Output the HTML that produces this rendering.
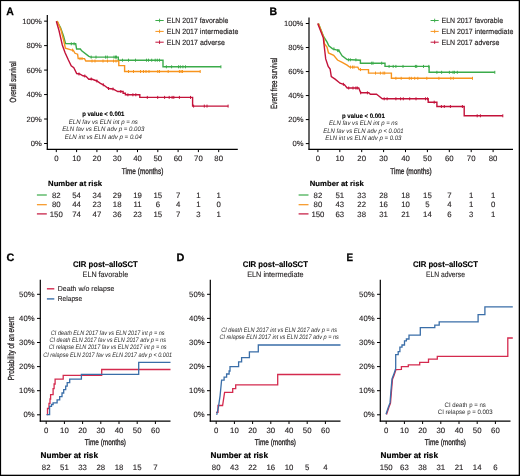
<!DOCTYPE html><html><head><meta charset="utf-8"><style>html,body{margin:0;padding:0;background:#fff;}svg{display:block;will-change:transform;text-rendering:geometricPrecision;font-family:"Liberation Sans",sans-serif;}</style></head><body>
<svg width="520" height="476" viewBox="0 0 520 476">
<rect x="0" y="0" width="520" height="476" fill="#fff"/>
<text x="6.3" y="14.8" font-size="10.8" text-anchor="start" font-weight="bold" font-style="normal" fill="#000" textLength="7.6" lengthAdjust="spacingAndGlyphs" stroke="#000" stroke-width="0.25">A</text>
<line x1="47.3" y1="15.0" x2="47.3" y2="149.8" stroke="#000" stroke-width="1.2"/>
<line x1="46.8" y1="149.3" x2="237.8" y2="149.3" stroke="#000" stroke-width="1.2"/>
<line x1="44.099999999999994" y1="143.5" x2="47.3" y2="143.5" stroke="#000" stroke-width="1.0"/>
<text x="41.699999999999996" y="146.1" font-size="7.6" text-anchor="end" font-weight="normal" font-style="normal" fill="#231f20" stroke="#231f20" stroke-width="0.12">0%</text>
<line x1="44.099999999999994" y1="119.03" x2="47.3" y2="119.03" stroke="#000" stroke-width="1.0"/>
<text x="41.699999999999996" y="121.63" font-size="7.6" text-anchor="end" font-weight="normal" font-style="normal" fill="#231f20" stroke="#231f20" stroke-width="0.12">20%</text>
<line x1="44.099999999999994" y1="94.56" x2="47.3" y2="94.56" stroke="#000" stroke-width="1.0"/>
<text x="41.699999999999996" y="97.16" font-size="7.6" text-anchor="end" font-weight="normal" font-style="normal" fill="#231f20" stroke="#231f20" stroke-width="0.12">40%</text>
<line x1="44.099999999999994" y1="70.09" x2="47.3" y2="70.09" stroke="#000" stroke-width="1.0"/>
<text x="41.699999999999996" y="72.69" font-size="7.6" text-anchor="end" font-weight="normal" font-style="normal" fill="#231f20" stroke="#231f20" stroke-width="0.12">60%</text>
<line x1="44.099999999999994" y1="45.620000000000005" x2="47.3" y2="45.620000000000005" stroke="#000" stroke-width="1.0"/>
<text x="41.699999999999996" y="48.220000000000006" font-size="7.6" text-anchor="end" font-weight="normal" font-style="normal" fill="#231f20" stroke="#231f20" stroke-width="0.12">80%</text>
<line x1="44.099999999999994" y1="21.150000000000006" x2="47.3" y2="21.150000000000006" stroke="#000" stroke-width="1.0"/>
<text x="41.699999999999996" y="23.750000000000007" font-size="7.6" text-anchor="end" font-weight="normal" font-style="normal" fill="#231f20" stroke="#231f20" stroke-width="0.12">100%</text>
<line x1="56.3" y1="149.3" x2="56.3" y2="152.10000000000002" stroke="#000" stroke-width="1.0"/>
<text x="56.3" y="161.2" font-size="7.8" text-anchor="middle" font-weight="normal" font-style="normal" fill="#231f20" stroke="#231f20" stroke-width="0.12">0</text>
<line x1="76.6" y1="149.3" x2="76.6" y2="152.10000000000002" stroke="#000" stroke-width="1.0"/>
<text x="76.6" y="161.2" font-size="7.8" text-anchor="middle" font-weight="normal" font-style="normal" fill="#231f20" stroke="#231f20" stroke-width="0.12">10</text>
<line x1="96.9" y1="149.3" x2="96.9" y2="152.10000000000002" stroke="#000" stroke-width="1.0"/>
<text x="96.9" y="161.2" font-size="7.8" text-anchor="middle" font-weight="normal" font-style="normal" fill="#231f20" stroke="#231f20" stroke-width="0.12">20</text>
<line x1="117.2" y1="149.3" x2="117.2" y2="152.10000000000002" stroke="#000" stroke-width="1.0"/>
<text x="117.2" y="161.2" font-size="7.8" text-anchor="middle" font-weight="normal" font-style="normal" fill="#231f20" stroke="#231f20" stroke-width="0.12">30</text>
<line x1="137.5" y1="149.3" x2="137.5" y2="152.10000000000002" stroke="#000" stroke-width="1.0"/>
<text x="137.5" y="161.2" font-size="7.8" text-anchor="middle" font-weight="normal" font-style="normal" fill="#231f20" stroke="#231f20" stroke-width="0.12">40</text>
<line x1="157.8" y1="149.3" x2="157.8" y2="152.10000000000002" stroke="#000" stroke-width="1.0"/>
<text x="157.8" y="161.2" font-size="7.8" text-anchor="middle" font-weight="normal" font-style="normal" fill="#231f20" stroke="#231f20" stroke-width="0.12">50</text>
<line x1="178.10000000000002" y1="149.3" x2="178.10000000000002" y2="152.10000000000002" stroke="#000" stroke-width="1.0"/>
<text x="178.10000000000002" y="161.2" font-size="7.8" text-anchor="middle" font-weight="normal" font-style="normal" fill="#231f20" stroke="#231f20" stroke-width="0.12">60</text>
<line x1="198.39999999999998" y1="149.3" x2="198.39999999999998" y2="152.10000000000002" stroke="#000" stroke-width="1.0"/>
<text x="198.39999999999998" y="161.2" font-size="7.8" text-anchor="middle" font-weight="normal" font-style="normal" fill="#231f20" stroke="#231f20" stroke-width="0.12">70</text>
<line x1="218.7" y1="149.3" x2="218.7" y2="152.10000000000002" stroke="#000" stroke-width="1.0"/>
<text x="218.7" y="161.2" font-size="7.8" text-anchor="middle" font-weight="normal" font-style="normal" fill="#231f20" stroke="#231f20" stroke-width="0.12">80</text>
<text x="142.55" y="173.7" font-size="8.5" text-anchor="middle" font-weight="normal" font-style="normal" fill="#231f20" textLength="41.5" lengthAdjust="spacingAndGlyphs" stroke="#231f20" stroke-width="0.3">Time (months)</text>
<text transform="translate(16.4,82.0) rotate(-90)" x="0" y="0" font-size="9.0" text-anchor="middle" fill="#231f20" stroke="#231f20" stroke-width="0.3" textLength="41" lengthAdjust="spacingAndGlyphs">Overall survival</text>
<line x1="155.4" y1="20.5" x2="163.7" y2="20.5" stroke="#3bab4a" stroke-width="1.0"/>
<line x1="159.55" y1="18.7" x2="159.55" y2="22.3" stroke="#3bab4a" stroke-width="0.9"/>
<text x="166.8" y="22.7" font-size="7.6" text-anchor="start" font-weight="normal" font-style="normal" fill="#231f20" textLength="61.5" lengthAdjust="spacingAndGlyphs" stroke="#231f20" stroke-width="0.15">ELN 2017 favorable</text>
<line x1="155.4" y1="31.4" x2="163.7" y2="31.4" stroke="#f7941d" stroke-width="1.0"/>
<line x1="159.55" y1="29.599999999999998" x2="159.55" y2="33.199999999999996" stroke="#f7941d" stroke-width="0.9"/>
<text x="166.8" y="33.6" font-size="7.6" text-anchor="start" font-weight="normal" font-style="normal" fill="#231f20" textLength="71.5" lengthAdjust="spacingAndGlyphs" stroke="#231f20" stroke-width="0.15">ELN 2017 intermediate</text>
<line x1="155.4" y1="42.2" x2="163.7" y2="42.2" stroke="#c3123a" stroke-width="1.0"/>
<line x1="159.55" y1="40.400000000000006" x2="159.55" y2="44.0" stroke="#c3123a" stroke-width="0.9"/>
<text x="166.8" y="44.6" font-size="7.6" text-anchor="start" font-weight="normal" font-style="normal" fill="#231f20" textLength="58.0" lengthAdjust="spacingAndGlyphs" stroke="#231f20" stroke-width="0.15">ELN 2017 adverse</text>
<text x="103.3" y="116.3" font-size="6.3" text-anchor="middle" font-weight="bold" font-style="normal" fill="#000" textLength="42.3" lengthAdjust="spacingAndGlyphs" stroke="#000" stroke-width="0.12">p value &lt; 0.001</text>
<text x="103.3" y="123.69999999999999" font-size="6.4" text-anchor="middle" font-weight="normal" font-style="italic" fill="#2a2a2a" textLength="69" lengthAdjust="spacingAndGlyphs">ELN fav vs ELN int p = ns</text>
<text x="103.3" y="131.29999999999998" font-size="6.4" text-anchor="middle" font-weight="normal" font-style="italic" fill="#2a2a2a" textLength="82" lengthAdjust="spacingAndGlyphs">ELN fav vs ELN adv p = 0.003</text>
<text x="103.3" y="138.6" font-size="6.4" text-anchor="middle" font-weight="normal" font-style="italic" fill="#2a2a2a" textLength="77" lengthAdjust="spacingAndGlyphs">ELN int vs ELN adv p = 0.04</text>
<text x="48.099999999999994" y="185.8" font-size="7.6" text-anchor="start" font-weight="bold" font-style="normal" fill="#000" textLength="54" lengthAdjust="spacingAndGlyphs" stroke="#000" stroke-width="0.15">Number at risk</text>
<line x1="36.9" y1="195.0" x2="46.8" y2="195.0" stroke="#3bab4a" stroke-width="1.2"/>
<text x="56.3" y="197.6" font-size="7.8" text-anchor="middle" font-weight="normal" font-style="normal" fill="#231f20" stroke="#231f20" stroke-width="0.12">82</text>
<text x="76.6" y="197.6" font-size="7.8" text-anchor="middle" font-weight="normal" font-style="normal" fill="#231f20" stroke="#231f20" stroke-width="0.12">54</text>
<text x="96.9" y="197.6" font-size="7.8" text-anchor="middle" font-weight="normal" font-style="normal" fill="#231f20" stroke="#231f20" stroke-width="0.12">34</text>
<text x="117.2" y="197.6" font-size="7.8" text-anchor="middle" font-weight="normal" font-style="normal" fill="#231f20" stroke="#231f20" stroke-width="0.12">29</text>
<text x="137.5" y="197.6" font-size="7.8" text-anchor="middle" font-weight="normal" font-style="normal" fill="#231f20" stroke="#231f20" stroke-width="0.12">19</text>
<text x="157.8" y="197.6" font-size="7.8" text-anchor="middle" font-weight="normal" font-style="normal" fill="#231f20" stroke="#231f20" stroke-width="0.12">15</text>
<text x="178.10000000000002" y="197.6" font-size="7.8" text-anchor="middle" font-weight="normal" font-style="normal" fill="#231f20" stroke="#231f20" stroke-width="0.12">7</text>
<text x="198.39999999999998" y="197.6" font-size="7.8" text-anchor="middle" font-weight="normal" font-style="normal" fill="#231f20" stroke="#231f20" stroke-width="0.12">1</text>
<text x="218.7" y="197.6" font-size="7.8" text-anchor="middle" font-weight="normal" font-style="normal" fill="#231f20" stroke="#231f20" stroke-width="0.12">1</text>
<line x1="36.9" y1="204.7" x2="46.8" y2="204.7" stroke="#f7941d" stroke-width="1.2"/>
<text x="56.3" y="207.29999999999998" font-size="7.8" text-anchor="middle" font-weight="normal" font-style="normal" fill="#231f20" stroke="#231f20" stroke-width="0.12">80</text>
<text x="76.6" y="207.29999999999998" font-size="7.8" text-anchor="middle" font-weight="normal" font-style="normal" fill="#231f20" stroke="#231f20" stroke-width="0.12">44</text>
<text x="96.9" y="207.29999999999998" font-size="7.8" text-anchor="middle" font-weight="normal" font-style="normal" fill="#231f20" stroke="#231f20" stroke-width="0.12">23</text>
<text x="117.2" y="207.29999999999998" font-size="7.8" text-anchor="middle" font-weight="normal" font-style="normal" fill="#231f20" stroke="#231f20" stroke-width="0.12">18</text>
<text x="137.5" y="207.29999999999998" font-size="7.8" text-anchor="middle" font-weight="normal" font-style="normal" fill="#231f20" stroke="#231f20" stroke-width="0.12">11</text>
<text x="157.8" y="207.29999999999998" font-size="7.8" text-anchor="middle" font-weight="normal" font-style="normal" fill="#231f20" stroke="#231f20" stroke-width="0.12">6</text>
<text x="178.10000000000002" y="207.29999999999998" font-size="7.8" text-anchor="middle" font-weight="normal" font-style="normal" fill="#231f20" stroke="#231f20" stroke-width="0.12">4</text>
<text x="198.39999999999998" y="207.29999999999998" font-size="7.8" text-anchor="middle" font-weight="normal" font-style="normal" fill="#231f20" stroke="#231f20" stroke-width="0.12">1</text>
<text x="218.7" y="207.29999999999998" font-size="7.8" text-anchor="middle" font-weight="normal" font-style="normal" fill="#231f20" stroke="#231f20" stroke-width="0.12">0</text>
<line x1="36.9" y1="213.9" x2="46.8" y2="213.9" stroke="#c3123a" stroke-width="1.2"/>
<text x="56.3" y="216.5" font-size="7.8" text-anchor="middle" font-weight="normal" font-style="normal" fill="#231f20" stroke="#231f20" stroke-width="0.12">150</text>
<text x="76.6" y="216.5" font-size="7.8" text-anchor="middle" font-weight="normal" font-style="normal" fill="#231f20" stroke="#231f20" stroke-width="0.12">74</text>
<text x="96.9" y="216.5" font-size="7.8" text-anchor="middle" font-weight="normal" font-style="normal" fill="#231f20" stroke="#231f20" stroke-width="0.12">47</text>
<text x="117.2" y="216.5" font-size="7.8" text-anchor="middle" font-weight="normal" font-style="normal" fill="#231f20" stroke="#231f20" stroke-width="0.12">36</text>
<text x="137.5" y="216.5" font-size="7.8" text-anchor="middle" font-weight="normal" font-style="normal" fill="#231f20" stroke="#231f20" stroke-width="0.12">23</text>
<text x="157.8" y="216.5" font-size="7.8" text-anchor="middle" font-weight="normal" font-style="normal" fill="#231f20" stroke="#231f20" stroke-width="0.12">15</text>
<text x="178.10000000000002" y="216.5" font-size="7.8" text-anchor="middle" font-weight="normal" font-style="normal" fill="#231f20" stroke="#231f20" stroke-width="0.12">7</text>
<text x="198.39999999999998" y="216.5" font-size="7.8" text-anchor="middle" font-weight="normal" font-style="normal" fill="#231f20" stroke="#231f20" stroke-width="0.12">3</text>
<text x="218.7" y="216.5" font-size="7.8" text-anchor="middle" font-weight="normal" font-style="normal" fill="#231f20" stroke="#231f20" stroke-width="0.12">1</text>
<text x="269.4" y="14.8" font-size="10.8" text-anchor="start" font-weight="bold" font-style="normal" fill="#000" textLength="7.6" lengthAdjust="spacingAndGlyphs" stroke="#000" stroke-width="0.25">B</text>
<line x1="309.0" y1="17.5" x2="309.0" y2="149.8" stroke="#000" stroke-width="1.2"/>
<line x1="308.5" y1="149.3" x2="513.0" y2="149.3" stroke="#000" stroke-width="1.2"/>
<line x1="305.8" y1="143.6" x2="309.0" y2="143.6" stroke="#000" stroke-width="1.0"/>
<text x="303.4" y="146.2" font-size="7.6" text-anchor="end" font-weight="normal" font-style="normal" fill="#231f20" stroke="#231f20" stroke-width="0.12">0%</text>
<line x1="305.8" y1="119.58" x2="309.0" y2="119.58" stroke="#000" stroke-width="1.0"/>
<text x="303.4" y="122.17999999999999" font-size="7.6" text-anchor="end" font-weight="normal" font-style="normal" fill="#231f20" stroke="#231f20" stroke-width="0.12">20%</text>
<line x1="305.8" y1="95.56" x2="309.0" y2="95.56" stroke="#000" stroke-width="1.0"/>
<text x="303.4" y="98.16" font-size="7.6" text-anchor="end" font-weight="normal" font-style="normal" fill="#231f20" stroke="#231f20" stroke-width="0.12">40%</text>
<line x1="305.8" y1="71.53999999999999" x2="309.0" y2="71.53999999999999" stroke="#000" stroke-width="1.0"/>
<text x="303.4" y="74.13999999999999" font-size="7.6" text-anchor="end" font-weight="normal" font-style="normal" fill="#231f20" stroke="#231f20" stroke-width="0.12">60%</text>
<line x1="305.8" y1="47.519999999999996" x2="309.0" y2="47.519999999999996" stroke="#000" stroke-width="1.0"/>
<text x="303.4" y="50.12" font-size="7.6" text-anchor="end" font-weight="normal" font-style="normal" fill="#231f20" stroke="#231f20" stroke-width="0.12">80%</text>
<line x1="305.8" y1="23.5" x2="309.0" y2="23.5" stroke="#000" stroke-width="1.0"/>
<text x="303.4" y="26.1" font-size="7.6" text-anchor="end" font-weight="normal" font-style="normal" fill="#231f20" stroke="#231f20" stroke-width="0.12">100%</text>
<line x1="317.9" y1="149.3" x2="317.9" y2="152.10000000000002" stroke="#000" stroke-width="1.0"/>
<text x="317.9" y="161.2" font-size="7.8" text-anchor="middle" font-weight="normal" font-style="normal" fill="#231f20" stroke="#231f20" stroke-width="0.12">0</text>
<line x1="339.79999999999995" y1="149.3" x2="339.79999999999995" y2="152.10000000000002" stroke="#000" stroke-width="1.0"/>
<text x="339.79999999999995" y="161.2" font-size="7.8" text-anchor="middle" font-weight="normal" font-style="normal" fill="#231f20" stroke="#231f20" stroke-width="0.12">10</text>
<line x1="361.7" y1="149.3" x2="361.7" y2="152.10000000000002" stroke="#000" stroke-width="1.0"/>
<text x="361.7" y="161.2" font-size="7.8" text-anchor="middle" font-weight="normal" font-style="normal" fill="#231f20" stroke="#231f20" stroke-width="0.12">20</text>
<line x1="383.59999999999997" y1="149.3" x2="383.59999999999997" y2="152.10000000000002" stroke="#000" stroke-width="1.0"/>
<text x="383.59999999999997" y="161.2" font-size="7.8" text-anchor="middle" font-weight="normal" font-style="normal" fill="#231f20" stroke="#231f20" stroke-width="0.12">30</text>
<line x1="405.5" y1="149.3" x2="405.5" y2="152.10000000000002" stroke="#000" stroke-width="1.0"/>
<text x="405.5" y="161.2" font-size="7.8" text-anchor="middle" font-weight="normal" font-style="normal" fill="#231f20" stroke="#231f20" stroke-width="0.12">40</text>
<line x1="427.4" y1="149.3" x2="427.4" y2="152.10000000000002" stroke="#000" stroke-width="1.0"/>
<text x="427.4" y="161.2" font-size="7.8" text-anchor="middle" font-weight="normal" font-style="normal" fill="#231f20" stroke="#231f20" stroke-width="0.12">50</text>
<line x1="449.29999999999995" y1="149.3" x2="449.29999999999995" y2="152.10000000000002" stroke="#000" stroke-width="1.0"/>
<text x="449.29999999999995" y="161.2" font-size="7.8" text-anchor="middle" font-weight="normal" font-style="normal" fill="#231f20" stroke="#231f20" stroke-width="0.12">60</text>
<line x1="471.19999999999993" y1="149.3" x2="471.19999999999993" y2="152.10000000000002" stroke="#000" stroke-width="1.0"/>
<text x="471.19999999999993" y="161.2" font-size="7.8" text-anchor="middle" font-weight="normal" font-style="normal" fill="#231f20" stroke="#231f20" stroke-width="0.12">70</text>
<line x1="493.09999999999997" y1="149.3" x2="493.09999999999997" y2="152.10000000000002" stroke="#000" stroke-width="1.0"/>
<text x="493.09999999999997" y="161.2" font-size="7.8" text-anchor="middle" font-weight="normal" font-style="normal" fill="#231f20" stroke="#231f20" stroke-width="0.12">80</text>
<text x="411.0" y="173.7" font-size="8.5" text-anchor="middle" font-weight="normal" font-style="normal" fill="#231f20" textLength="41.5" lengthAdjust="spacingAndGlyphs" stroke="#231f20" stroke-width="0.3">Time (months)</text>
<text transform="translate(277.0,83.25) rotate(-90)" x="0" y="0" font-size="9.0" text-anchor="middle" fill="#231f20" stroke="#231f20" stroke-width="0.3" textLength="51.3" lengthAdjust="spacingAndGlyphs">Event free survival</text>
<line x1="430.6" y1="20.5" x2="438.7" y2="20.5" stroke="#3bab4a" stroke-width="1.0"/>
<line x1="434.65" y1="18.7" x2="434.65" y2="22.3" stroke="#3bab4a" stroke-width="0.9"/>
<text x="441.5" y="22.7" font-size="7.6" text-anchor="start" font-weight="normal" font-style="normal" fill="#231f20" textLength="61.5" lengthAdjust="spacingAndGlyphs" stroke="#231f20" stroke-width="0.15">ELN 2017 favorable</text>
<line x1="430.6" y1="31.4" x2="438.7" y2="31.4" stroke="#f7941d" stroke-width="1.0"/>
<line x1="434.65" y1="29.599999999999998" x2="434.65" y2="33.199999999999996" stroke="#f7941d" stroke-width="0.9"/>
<text x="441.5" y="33.6" font-size="7.6" text-anchor="start" font-weight="normal" font-style="normal" fill="#231f20" textLength="71.8" lengthAdjust="spacingAndGlyphs" stroke="#231f20" stroke-width="0.15">ELN 2017 intermediate</text>
<line x1="430.6" y1="42.2" x2="438.7" y2="42.2" stroke="#c3123a" stroke-width="1.0"/>
<line x1="434.65" y1="40.400000000000006" x2="434.65" y2="44.0" stroke="#c3123a" stroke-width="0.9"/>
<text x="441.5" y="44.6" font-size="7.6" text-anchor="start" font-weight="normal" font-style="normal" fill="#231f20" textLength="58.0" lengthAdjust="spacingAndGlyphs" stroke="#231f20" stroke-width="0.15">ELN 2017 adverse</text>
<text x="363.4" y="117.8" font-size="6.3" text-anchor="middle" font-weight="bold" font-style="normal" fill="#000" textLength="42.8" lengthAdjust="spacingAndGlyphs" stroke="#000" stroke-width="0.12">p value &lt; 0.001</text>
<text x="363.4" y="124.69999999999999" font-size="6.4" text-anchor="middle" font-weight="normal" font-style="italic" fill="#2a2a2a" textLength="68.6" lengthAdjust="spacingAndGlyphs">ELN fav vs ELN int p = ns</text>
<text x="363.4" y="132.7" font-size="6.4" text-anchor="middle" font-weight="normal" font-style="italic" fill="#2a2a2a" textLength="80.3" lengthAdjust="spacingAndGlyphs">ELN fav vs ELN adv p &lt; 0.001</text>
<text x="363.4" y="139.6" font-size="6.4" text-anchor="middle" font-weight="normal" font-style="italic" fill="#2a2a2a" textLength="76.1" lengthAdjust="spacingAndGlyphs">ELN int vs ELN adv p = 0.03</text>
<text x="309.8" y="185.8" font-size="7.6" text-anchor="start" font-weight="bold" font-style="normal" fill="#000" textLength="54" lengthAdjust="spacingAndGlyphs" stroke="#000" stroke-width="0.15">Number at risk</text>
<line x1="298.6" y1="195.0" x2="308.5" y2="195.0" stroke="#3bab4a" stroke-width="1.2"/>
<text x="317.9" y="197.6" font-size="7.8" text-anchor="middle" font-weight="normal" font-style="normal" fill="#231f20" stroke="#231f20" stroke-width="0.12">82</text>
<text x="339.79999999999995" y="197.6" font-size="7.8" text-anchor="middle" font-weight="normal" font-style="normal" fill="#231f20" stroke="#231f20" stroke-width="0.12">51</text>
<text x="361.7" y="197.6" font-size="7.8" text-anchor="middle" font-weight="normal" font-style="normal" fill="#231f20" stroke="#231f20" stroke-width="0.12">33</text>
<text x="383.59999999999997" y="197.6" font-size="7.8" text-anchor="middle" font-weight="normal" font-style="normal" fill="#231f20" stroke="#231f20" stroke-width="0.12">28</text>
<text x="405.5" y="197.6" font-size="7.8" text-anchor="middle" font-weight="normal" font-style="normal" fill="#231f20" stroke="#231f20" stroke-width="0.12">18</text>
<text x="427.4" y="197.6" font-size="7.8" text-anchor="middle" font-weight="normal" font-style="normal" fill="#231f20" stroke="#231f20" stroke-width="0.12">15</text>
<text x="449.29999999999995" y="197.6" font-size="7.8" text-anchor="middle" font-weight="normal" font-style="normal" fill="#231f20" stroke="#231f20" stroke-width="0.12">7</text>
<text x="471.19999999999993" y="197.6" font-size="7.8" text-anchor="middle" font-weight="normal" font-style="normal" fill="#231f20" stroke="#231f20" stroke-width="0.12">1</text>
<text x="493.09999999999997" y="197.6" font-size="7.8" text-anchor="middle" font-weight="normal" font-style="normal" fill="#231f20" stroke="#231f20" stroke-width="0.12">1</text>
<line x1="298.6" y1="204.7" x2="308.5" y2="204.7" stroke="#f7941d" stroke-width="1.2"/>
<text x="317.9" y="207.29999999999998" font-size="7.8" text-anchor="middle" font-weight="normal" font-style="normal" fill="#231f20" stroke="#231f20" stroke-width="0.12">80</text>
<text x="339.79999999999995" y="207.29999999999998" font-size="7.8" text-anchor="middle" font-weight="normal" font-style="normal" fill="#231f20" stroke="#231f20" stroke-width="0.12">43</text>
<text x="361.7" y="207.29999999999998" font-size="7.8" text-anchor="middle" font-weight="normal" font-style="normal" fill="#231f20" stroke="#231f20" stroke-width="0.12">22</text>
<text x="383.59999999999997" y="207.29999999999998" font-size="7.8" text-anchor="middle" font-weight="normal" font-style="normal" fill="#231f20" stroke="#231f20" stroke-width="0.12">16</text>
<text x="405.5" y="207.29999999999998" font-size="7.8" text-anchor="middle" font-weight="normal" font-style="normal" fill="#231f20" stroke="#231f20" stroke-width="0.12">10</text>
<text x="427.4" y="207.29999999999998" font-size="7.8" text-anchor="middle" font-weight="normal" font-style="normal" fill="#231f20" stroke="#231f20" stroke-width="0.12">5</text>
<text x="449.29999999999995" y="207.29999999999998" font-size="7.8" text-anchor="middle" font-weight="normal" font-style="normal" fill="#231f20" stroke="#231f20" stroke-width="0.12">4</text>
<text x="471.19999999999993" y="207.29999999999998" font-size="7.8" text-anchor="middle" font-weight="normal" font-style="normal" fill="#231f20" stroke="#231f20" stroke-width="0.12">1</text>
<text x="493.09999999999997" y="207.29999999999998" font-size="7.8" text-anchor="middle" font-weight="normal" font-style="normal" fill="#231f20" stroke="#231f20" stroke-width="0.12">0</text>
<line x1="298.6" y1="213.9" x2="308.5" y2="213.9" stroke="#c3123a" stroke-width="1.2"/>
<text x="317.9" y="216.5" font-size="7.8" text-anchor="middle" font-weight="normal" font-style="normal" fill="#231f20" stroke="#231f20" stroke-width="0.12">150</text>
<text x="339.79999999999995" y="216.5" font-size="7.8" text-anchor="middle" font-weight="normal" font-style="normal" fill="#231f20" stroke="#231f20" stroke-width="0.12">63</text>
<text x="361.7" y="216.5" font-size="7.8" text-anchor="middle" font-weight="normal" font-style="normal" fill="#231f20" stroke="#231f20" stroke-width="0.12">38</text>
<text x="383.59999999999997" y="216.5" font-size="7.8" text-anchor="middle" font-weight="normal" font-style="normal" fill="#231f20" stroke="#231f20" stroke-width="0.12">31</text>
<text x="405.5" y="216.5" font-size="7.8" text-anchor="middle" font-weight="normal" font-style="normal" fill="#231f20" stroke="#231f20" stroke-width="0.12">21</text>
<text x="427.4" y="216.5" font-size="7.8" text-anchor="middle" font-weight="normal" font-style="normal" fill="#231f20" stroke="#231f20" stroke-width="0.12">14</text>
<text x="449.29999999999995" y="216.5" font-size="7.8" text-anchor="middle" font-weight="normal" font-style="normal" fill="#231f20" stroke="#231f20" stroke-width="0.12">6</text>
<text x="471.19999999999993" y="216.5" font-size="7.8" text-anchor="middle" font-weight="normal" font-style="normal" fill="#231f20" stroke="#231f20" stroke-width="0.12">3</text>
<text x="493.09999999999997" y="216.5" font-size="7.8" text-anchor="middle" font-weight="normal" font-style="normal" fill="#231f20" stroke="#231f20" stroke-width="0.12">1</text>
<polyline points="56.80,21.00 60.50,27.50 63.50,36.00 65.60,43.60 75.70,43.80 76.60,49.00 80.40,49.00 81.70,50.80 88.90,56.40 90.80,57.10 118.30,57.10 118.30,60.20 163.00,60.20 163.00,66.80 220.90,66.80" fill="none" stroke="#3bab4a" stroke-width="1.4" stroke-linejoin="miter"/>
<polyline points="57.30,21.00 61.00,30.00 63.60,40.00 65.40,48.10 71.80,50.10 73.20,50.10 75.00,53.30 77.60,54.20 78.20,58.60 84.50,58.60 85.80,61.00 118.80,61.00 118.80,65.60 124.60,65.60 124.60,71.50 200.20,71.50" fill="none" stroke="#f7941d" stroke-width="1.4" stroke-linejoin="miter"/>
<polyline points="56.30,21.30 59.00,30.50 62.30,45.00 65.00,52.50 68.40,60.00 71.20,65.80 73.80,67.70 76.70,73.50 79.60,74.00 83.00,75.80 86.00,76.30 88.80,79.20 91.70,79.00 96.90,81.00 100.40,83.30 103.30,84.80 108.50,88.50 113.00,89.00 117.70,91.50 123.10,91.50 123.10,93.30 125.40,93.30 125.40,94.80 139.80,94.80 139.80,97.40 192.60,97.40 192.60,106.10 228.10,106.10" fill="none" stroke="#c3123a" stroke-width="1.4" stroke-linejoin="miter"/>
<line x1="71.3" y1="42.3" x2="71.3" y2="45.3" stroke="#3bab4a" stroke-width="1.0"/>
<line x1="74.1" y1="42.3" x2="74.1" y2="45.3" stroke="#3bab4a" stroke-width="1.0"/>
<line x1="91.2" y1="55.6" x2="91.2" y2="58.6" stroke="#3bab4a" stroke-width="1.0"/>
<line x1="96" y1="55.6" x2="96" y2="58.6" stroke="#3bab4a" stroke-width="1.0"/>
<line x1="105.6" y1="55.6" x2="105.6" y2="58.6" stroke="#3bab4a" stroke-width="1.0"/>
<line x1="107.3" y1="55.6" x2="107.3" y2="58.6" stroke="#3bab4a" stroke-width="1.0"/>
<line x1="114" y1="55.6" x2="114" y2="58.6" stroke="#3bab4a" stroke-width="1.0"/>
<line x1="115.5" y1="55.6" x2="115.5" y2="58.6" stroke="#3bab4a" stroke-width="1.0"/>
<line x1="116.5" y1="55.6" x2="116.5" y2="58.6" stroke="#3bab4a" stroke-width="1.0"/>
<line x1="122.5" y1="58.7" x2="122.5" y2="61.7" stroke="#3bab4a" stroke-width="1.0"/>
<line x1="128.5" y1="58.7" x2="128.5" y2="61.7" stroke="#3bab4a" stroke-width="1.0"/>
<line x1="135.5" y1="58.7" x2="135.5" y2="61.7" stroke="#3bab4a" stroke-width="1.0"/>
<line x1="146.5" y1="58.7" x2="146.5" y2="61.7" stroke="#3bab4a" stroke-width="1.0"/>
<line x1="148.5" y1="58.7" x2="148.5" y2="61.7" stroke="#3bab4a" stroke-width="1.0"/>
<line x1="151.7" y1="58.7" x2="151.7" y2="61.7" stroke="#3bab4a" stroke-width="1.0"/>
<line x1="155.2" y1="58.7" x2="155.2" y2="61.7" stroke="#3bab4a" stroke-width="1.0"/>
<line x1="157.3" y1="58.7" x2="157.3" y2="61.7" stroke="#3bab4a" stroke-width="1.0"/>
<line x1="159.5" y1="58.7" x2="159.5" y2="61.7" stroke="#3bab4a" stroke-width="1.0"/>
<line x1="166.4" y1="65.3" x2="166.4" y2="68.3" stroke="#3bab4a" stroke-width="1.0"/>
<line x1="171.6" y1="65.3" x2="171.6" y2="68.3" stroke="#3bab4a" stroke-width="1.0"/>
<line x1="178.5" y1="65.3" x2="178.5" y2="68.3" stroke="#3bab4a" stroke-width="1.0"/>
<line x1="180.3" y1="65.3" x2="180.3" y2="68.3" stroke="#3bab4a" stroke-width="1.0"/>
<line x1="182.9" y1="65.3" x2="182.9" y2="68.3" stroke="#3bab4a" stroke-width="1.0"/>
<line x1="185.5" y1="65.3" x2="185.5" y2="68.3" stroke="#3bab4a" stroke-width="1.0"/>
<line x1="220.9" y1="65.3" x2="220.9" y2="68.3" stroke="#3bab4a" stroke-width="1.0"/>
<line x1="72.5" y1="48.6" x2="72.5" y2="51.6" stroke="#f7941d" stroke-width="1.0"/>
<line x1="80" y1="57.1" x2="80" y2="60.1" stroke="#f7941d" stroke-width="1.0"/>
<line x1="82" y1="57.1" x2="82" y2="60.1" stroke="#f7941d" stroke-width="1.0"/>
<line x1="92" y1="59.5" x2="92" y2="62.5" stroke="#f7941d" stroke-width="1.0"/>
<line x1="95" y1="59.5" x2="95" y2="62.5" stroke="#f7941d" stroke-width="1.0"/>
<line x1="103" y1="59.5" x2="103" y2="62.5" stroke="#f7941d" stroke-width="1.0"/>
<line x1="107.5" y1="59.5" x2="107.5" y2="62.5" stroke="#f7941d" stroke-width="1.0"/>
<line x1="113.5" y1="59.5" x2="113.5" y2="62.5" stroke="#f7941d" stroke-width="1.0"/>
<line x1="116" y1="59.5" x2="116" y2="62.5" stroke="#f7941d" stroke-width="1.0"/>
<line x1="128.5" y1="70.0" x2="128.5" y2="73.0" stroke="#f7941d" stroke-width="1.0"/>
<line x1="133.5" y1="70.0" x2="133.5" y2="73.0" stroke="#f7941d" stroke-width="1.0"/>
<line x1="140.5" y1="70.0" x2="140.5" y2="73.0" stroke="#f7941d" stroke-width="1.0"/>
<line x1="143.5" y1="70.0" x2="143.5" y2="73.0" stroke="#f7941d" stroke-width="1.0"/>
<line x1="146" y1="70.0" x2="146" y2="73.0" stroke="#f7941d" stroke-width="1.0"/>
<line x1="149" y1="70.0" x2="149" y2="73.0" stroke="#f7941d" stroke-width="1.0"/>
<line x1="157.8" y1="70.0" x2="157.8" y2="73.0" stroke="#f7941d" stroke-width="1.0"/>
<line x1="159.5" y1="70.0" x2="159.5" y2="73.0" stroke="#f7941d" stroke-width="1.0"/>
<line x1="168.2" y1="70.0" x2="168.2" y2="73.0" stroke="#f7941d" stroke-width="1.0"/>
<line x1="179.4" y1="70.0" x2="179.4" y2="73.0" stroke="#f7941d" stroke-width="1.0"/>
<line x1="181.1" y1="70.0" x2="181.1" y2="73.0" stroke="#f7941d" stroke-width="1.0"/>
<line x1="182.5" y1="70.0" x2="182.5" y2="73.0" stroke="#f7941d" stroke-width="1.0"/>
<line x1="200.2" y1="70.0" x2="200.2" y2="73.0" stroke="#f7941d" stroke-width="1.0"/>
<line x1="120.8" y1="90.0" x2="120.8" y2="93.0" stroke="#c3123a" stroke-width="1.0"/>
<line x1="79" y1="72.5" x2="79" y2="75.5" stroke="#c3123a" stroke-width="1.0"/>
<line x1="84.8" y1="74.5" x2="84.8" y2="77.5" stroke="#c3123a" stroke-width="1.0"/>
<line x1="91.2" y1="77.5" x2="91.2" y2="80.5" stroke="#c3123a" stroke-width="1.0"/>
<line x1="96.9" y1="79.5" x2="96.9" y2="82.5" stroke="#c3123a" stroke-width="1.0"/>
<line x1="103.3" y1="83.3" x2="103.3" y2="86.3" stroke="#c3123a" stroke-width="1.0"/>
<line x1="108.5" y1="87.0" x2="108.5" y2="90.0" stroke="#c3123a" stroke-width="1.0"/>
<line x1="113" y1="87.5" x2="113" y2="90.5" stroke="#c3123a" stroke-width="1.0"/>
<line x1="127.9" y1="93.3" x2="127.9" y2="96.3" stroke="#c3123a" stroke-width="1.0"/>
<line x1="132.9" y1="93.3" x2="132.9" y2="96.3" stroke="#c3123a" stroke-width="1.0"/>
<line x1="135.8" y1="93.3" x2="135.8" y2="96.3" stroke="#c3123a" stroke-width="1.0"/>
<line x1="147.3" y1="95.9" x2="147.3" y2="98.9" stroke="#c3123a" stroke-width="1.0"/>
<line x1="157.7" y1="95.9" x2="157.7" y2="98.9" stroke="#c3123a" stroke-width="1.0"/>
<line x1="164.6" y1="95.9" x2="164.6" y2="98.9" stroke="#c3123a" stroke-width="1.0"/>
<line x1="169.2" y1="95.9" x2="169.2" y2="98.9" stroke="#c3123a" stroke-width="1.0"/>
<line x1="172.1" y1="95.9" x2="172.1" y2="98.9" stroke="#c3123a" stroke-width="1.0"/>
<line x1="173.8" y1="95.9" x2="173.8" y2="98.9" stroke="#c3123a" stroke-width="1.0"/>
<line x1="179.4" y1="95.9" x2="179.4" y2="98.9" stroke="#c3123a" stroke-width="1.0"/>
<line x1="190.5" y1="95.9" x2="190.5" y2="98.9" stroke="#c3123a" stroke-width="1.0"/>
<line x1="193.6" y1="104.6" x2="193.6" y2="107.6" stroke="#c3123a" stroke-width="1.0"/>
<line x1="204.3" y1="104.6" x2="204.3" y2="107.6" stroke="#c3123a" stroke-width="1.0"/>
<line x1="207" y1="104.6" x2="207" y2="107.6" stroke="#c3123a" stroke-width="1.0"/>
<line x1="228.1" y1="104.6" x2="228.1" y2="107.6" stroke="#c3123a" stroke-width="1.0"/>
<polyline points="318.40,23.50 323.80,36.90 327.10,42.10 328.80,45.70 332.60,48.80 338.90,50.70 342.10,55.80 347.10,59.50 360.40,60.20 360.40,63.20 385.00,63.20 385.00,66.40 429.10,66.40 429.10,72.30 494.80,72.30" fill="none" stroke="#3bab4a" stroke-width="1.4" stroke-linejoin="miter"/>
<polyline points="318.40,23.50 323.80,37.80 324.30,43.50 327.10,47.30 328.50,53.00 333.70,55.30 337.50,60.00 342.20,62.40 347.10,65.20 349.60,67.10 357.80,67.10 359.10,69.60 368.50,69.60 368.50,73.10 391.40,73.10 391.40,78.30 472.50,78.30" fill="none" stroke="#f7941d" stroke-width="1.4" stroke-linejoin="miter"/>
<polyline points="317.70,23.50 323.30,37.80 323.80,42.50 325.70,58.90 328.20,66.50 330.10,69.00 331.30,76.60 335.10,79.10 338.90,82.20 340.00,83.20 344.30,84.60 347.20,88.00 358.75,88.00 360.70,92.80 368.80,92.80 370.30,94.20 376.50,94.20 378.50,95.70 382.30,98.80 428.20,98.80 428.20,102.20 436.90,102.20 436.90,106.50 464.20,106.50 464.20,115.80 502.80,115.80" fill="none" stroke="#c3123a" stroke-width="1.4" stroke-linejoin="miter"/>
<line x1="333.9" y1="47.4" x2="333.9" y2="50.4" stroke="#3bab4a" stroke-width="1.0"/>
<line x1="337.7" y1="49.1" x2="337.7" y2="52.1" stroke="#3bab4a" stroke-width="1.0"/>
<line x1="338.9" y1="49.1" x2="338.9" y2="52.1" stroke="#3bab4a" stroke-width="1.0"/>
<line x1="348.4" y1="58.3" x2="348.4" y2="61.3" stroke="#3bab4a" stroke-width="1.0"/>
<line x1="350.3" y1="58.3" x2="350.3" y2="61.3" stroke="#3bab4a" stroke-width="1.0"/>
<line x1="355.9" y1="58.3" x2="355.9" y2="61.3" stroke="#3bab4a" stroke-width="1.0"/>
<line x1="371.7" y1="61.7" x2="371.7" y2="64.7" stroke="#3bab4a" stroke-width="1.0"/>
<line x1="373" y1="61.7" x2="373" y2="64.7" stroke="#3bab4a" stroke-width="1.0"/>
<line x1="381.7" y1="61.7" x2="381.7" y2="64.7" stroke="#3bab4a" stroke-width="1.0"/>
<line x1="389.1" y1="64.9" x2="389.1" y2="67.9" stroke="#3bab4a" stroke-width="1.0"/>
<line x1="393.2" y1="64.9" x2="393.2" y2="67.9" stroke="#3bab4a" stroke-width="1.0"/>
<line x1="395.9" y1="64.9" x2="395.9" y2="67.9" stroke="#3bab4a" stroke-width="1.0"/>
<line x1="403" y1="64.9" x2="403" y2="67.9" stroke="#3bab4a" stroke-width="1.0"/>
<line x1="415.4" y1="64.9" x2="415.4" y2="67.9" stroke="#3bab4a" stroke-width="1.0"/>
<line x1="416.7" y1="64.9" x2="416.7" y2="67.9" stroke="#3bab4a" stroke-width="1.0"/>
<line x1="423.5" y1="64.9" x2="423.5" y2="67.9" stroke="#3bab4a" stroke-width="1.0"/>
<line x1="428.8" y1="64.9" x2="428.8" y2="67.9" stroke="#3bab4a" stroke-width="1.0"/>
<line x1="436.9" y1="70.8" x2="436.9" y2="73.8" stroke="#3bab4a" stroke-width="1.0"/>
<line x1="441.6" y1="70.8" x2="441.6" y2="73.8" stroke="#3bab4a" stroke-width="1.0"/>
<line x1="449.4" y1="70.8" x2="449.4" y2="73.8" stroke="#3bab4a" stroke-width="1.0"/>
<line x1="453" y1="70.8" x2="453" y2="73.8" stroke="#3bab4a" stroke-width="1.0"/>
<line x1="454.4" y1="70.8" x2="454.4" y2="73.8" stroke="#3bab4a" stroke-width="1.0"/>
<line x1="457.3" y1="70.8" x2="457.3" y2="73.8" stroke="#3bab4a" stroke-width="1.0"/>
<line x1="494.8" y1="70.8" x2="494.8" y2="73.8" stroke="#3bab4a" stroke-width="1.0"/>
<line x1="350.5" y1="65.6" x2="350.5" y2="68.6" stroke="#f7941d" stroke-width="1.0"/>
<line x1="352.5" y1="65.6" x2="352.5" y2="68.6" stroke="#f7941d" stroke-width="1.0"/>
<line x1="354" y1="65.6" x2="354" y2="68.6" stroke="#f7941d" stroke-width="1.0"/>
<line x1="360.5" y1="68.1" x2="360.5" y2="71.1" stroke="#f7941d" stroke-width="1.0"/>
<line x1="375.5" y1="71.6" x2="375.5" y2="74.6" stroke="#f7941d" stroke-width="1.0"/>
<line x1="380.4" y1="71.6" x2="380.4" y2="74.6" stroke="#f7941d" stroke-width="1.0"/>
<line x1="383.1" y1="71.6" x2="383.1" y2="74.6" stroke="#f7941d" stroke-width="1.0"/>
<line x1="384.7" y1="71.6" x2="384.7" y2="74.6" stroke="#f7941d" stroke-width="1.0"/>
<line x1="395.9" y1="76.8" x2="395.9" y2="79.8" stroke="#f7941d" stroke-width="1.0"/>
<line x1="401.2" y1="76.8" x2="401.2" y2="79.8" stroke="#f7941d" stroke-width="1.0"/>
<line x1="409.3" y1="76.8" x2="409.3" y2="79.8" stroke="#f7941d" stroke-width="1.0"/>
<line x1="411.3" y1="76.8" x2="411.3" y2="79.8" stroke="#f7941d" stroke-width="1.0"/>
<line x1="414.7" y1="76.8" x2="414.7" y2="79.8" stroke="#f7941d" stroke-width="1.0"/>
<line x1="417.8" y1="76.8" x2="417.8" y2="79.8" stroke="#f7941d" stroke-width="1.0"/>
<line x1="426.8" y1="76.8" x2="426.8" y2="79.8" stroke="#f7941d" stroke-width="1.0"/>
<line x1="438.9" y1="76.8" x2="438.9" y2="79.8" stroke="#f7941d" stroke-width="1.0"/>
<line x1="450.8" y1="76.8" x2="450.8" y2="79.8" stroke="#f7941d" stroke-width="1.0"/>
<line x1="453.3" y1="76.8" x2="453.3" y2="79.8" stroke="#f7941d" stroke-width="1.0"/>
<line x1="472.5" y1="76.8" x2="472.5" y2="79.8" stroke="#f7941d" stroke-width="1.0"/>
<line x1="343.4" y1="82.8" x2="343.4" y2="85.8" stroke="#c3123a" stroke-width="1.0"/>
<line x1="348.7" y1="86.5" x2="348.7" y2="89.5" stroke="#c3123a" stroke-width="1.0"/>
<line x1="353" y1="86.5" x2="353" y2="89.5" stroke="#c3123a" stroke-width="1.0"/>
<line x1="355.9" y1="86.5" x2="355.9" y2="89.5" stroke="#c3123a" stroke-width="1.0"/>
<line x1="357.3" y1="86.5" x2="357.3" y2="89.5" stroke="#c3123a" stroke-width="1.0"/>
<line x1="360.7" y1="91.3" x2="360.7" y2="94.3" stroke="#c3123a" stroke-width="1.0"/>
<line x1="367.4" y1="91.3" x2="367.4" y2="94.3" stroke="#c3123a" stroke-width="1.0"/>
<line x1="384.2" y1="97.3" x2="384.2" y2="100.3" stroke="#c3123a" stroke-width="1.0"/>
<line x1="387.1" y1="97.3" x2="387.1" y2="100.3" stroke="#c3123a" stroke-width="1.0"/>
<line x1="395.9" y1="97.3" x2="395.9" y2="100.3" stroke="#c3123a" stroke-width="1.0"/>
<line x1="400.6" y1="97.3" x2="400.6" y2="100.3" stroke="#c3123a" stroke-width="1.0"/>
<line x1="403.3" y1="97.3" x2="403.3" y2="100.3" stroke="#c3123a" stroke-width="1.0"/>
<line x1="409.7" y1="97.3" x2="409.7" y2="100.3" stroke="#c3123a" stroke-width="1.0"/>
<line x1="416" y1="97.3" x2="416" y2="100.3" stroke="#c3123a" stroke-width="1.0"/>
<line x1="425.5" y1="97.3" x2="425.5" y2="100.3" stroke="#c3123a" stroke-width="1.0"/>
<line x1="427.5" y1="97.3" x2="427.5" y2="100.3" stroke="#c3123a" stroke-width="1.0"/>
<line x1="434.2" y1="100.7" x2="434.2" y2="103.7" stroke="#c3123a" stroke-width="1.0"/>
<line x1="441.4" y1="105.0" x2="441.4" y2="108.0" stroke="#c3123a" stroke-width="1.0"/>
<line x1="444.3" y1="105.0" x2="444.3" y2="108.0" stroke="#c3123a" stroke-width="1.0"/>
<line x1="450.4" y1="105.0" x2="450.4" y2="108.0" stroke="#c3123a" stroke-width="1.0"/>
<line x1="462.4" y1="105.0" x2="462.4" y2="108.0" stroke="#c3123a" stroke-width="1.0"/>
<line x1="477.2" y1="114.3" x2="477.2" y2="117.3" stroke="#c3123a" stroke-width="1.0"/>
<line x1="480.4" y1="114.3" x2="480.4" y2="117.3" stroke="#c3123a" stroke-width="1.0"/>
<line x1="502.8" y1="114.3" x2="502.8" y2="117.3" stroke="#c3123a" stroke-width="1.0"/>
<text x="6.4" y="261.4" font-size="10.8" text-anchor="start" font-weight="bold" font-style="normal" fill="#000" textLength="7.9" lengthAdjust="spacingAndGlyphs" stroke="#000" stroke-width="0.25">C</text>
<line x1="40.3" y1="279.8" x2="40.3" y2="421.7" stroke="#000" stroke-width="1.2"/>
<line x1="39.8" y1="421.2" x2="170.5" y2="421.2" stroke="#000" stroke-width="1.2"/>
<line x1="37.0" y1="414.8" x2="40.3" y2="414.8" stroke="#000" stroke-width="1.0"/>
<text x="34.5" y="417.40000000000003" font-size="7.7" text-anchor="end" font-weight="normal" font-style="normal" fill="#231f20" stroke="#231f20" stroke-width="0.12">0%</text>
<line x1="37.0" y1="390.7" x2="40.3" y2="390.7" stroke="#000" stroke-width="1.0"/>
<text x="34.5" y="393.3" font-size="7.7" text-anchor="end" font-weight="normal" font-style="normal" fill="#231f20" stroke="#231f20" stroke-width="0.12">10%</text>
<line x1="37.0" y1="366.6" x2="40.3" y2="366.6" stroke="#000" stroke-width="1.0"/>
<text x="34.5" y="369.20000000000005" font-size="7.7" text-anchor="end" font-weight="normal" font-style="normal" fill="#231f20" stroke="#231f20" stroke-width="0.12">20%</text>
<line x1="37.0" y1="342.5" x2="40.3" y2="342.5" stroke="#000" stroke-width="1.0"/>
<text x="34.5" y="345.1" font-size="7.7" text-anchor="end" font-weight="normal" font-style="normal" fill="#231f20" stroke="#231f20" stroke-width="0.12">30%</text>
<line x1="37.0" y1="318.4" x2="40.3" y2="318.4" stroke="#000" stroke-width="1.0"/>
<text x="34.5" y="321.0" font-size="7.7" text-anchor="end" font-weight="normal" font-style="normal" fill="#231f20" stroke="#231f20" stroke-width="0.12">40%</text>
<line x1="37.0" y1="294.3" x2="40.3" y2="294.3" stroke="#000" stroke-width="1.0"/>
<text x="34.5" y="296.90000000000003" font-size="7.7" text-anchor="end" font-weight="normal" font-style="normal" fill="#231f20" stroke="#231f20" stroke-width="0.12">50%</text>
<line x1="46.2" y1="421.2" x2="46.2" y2="424.0" stroke="#000" stroke-width="1.0"/>
<text x="46.2" y="432.9" font-size="7.8" text-anchor="middle" font-weight="normal" font-style="normal" fill="#231f20" stroke="#231f20" stroke-width="0.12">0</text>
<line x1="64.4" y1="421.2" x2="64.4" y2="424.0" stroke="#000" stroke-width="1.0"/>
<text x="64.4" y="432.9" font-size="7.8" text-anchor="middle" font-weight="normal" font-style="normal" fill="#231f20" stroke="#231f20" stroke-width="0.12">10</text>
<line x1="82.6" y1="421.2" x2="82.6" y2="424.0" stroke="#000" stroke-width="1.0"/>
<text x="82.6" y="432.9" font-size="7.8" text-anchor="middle" font-weight="normal" font-style="normal" fill="#231f20" stroke="#231f20" stroke-width="0.12">20</text>
<line x1="100.8" y1="421.2" x2="100.8" y2="424.0" stroke="#000" stroke-width="1.0"/>
<text x="100.8" y="432.9" font-size="7.8" text-anchor="middle" font-weight="normal" font-style="normal" fill="#231f20" stroke="#231f20" stroke-width="0.12">30</text>
<line x1="119.0" y1="421.2" x2="119.0" y2="424.0" stroke="#000" stroke-width="1.0"/>
<text x="119.0" y="432.9" font-size="7.8" text-anchor="middle" font-weight="normal" font-style="normal" fill="#231f20" stroke="#231f20" stroke-width="0.12">40</text>
<line x1="137.2" y1="421.2" x2="137.2" y2="424.0" stroke="#000" stroke-width="1.0"/>
<text x="137.2" y="432.9" font-size="7.8" text-anchor="middle" font-weight="normal" font-style="normal" fill="#231f20" stroke="#231f20" stroke-width="0.12">50</text>
<line x1="155.39999999999998" y1="421.2" x2="155.39999999999998" y2="424.0" stroke="#000" stroke-width="1.0"/>
<text x="155.39999999999998" y="432.9" font-size="7.8" text-anchor="middle" font-weight="normal" font-style="normal" fill="#231f20" stroke="#231f20" stroke-width="0.12">60</text>
<text x="105.4" y="444.9" font-size="8.4" text-anchor="middle" font-weight="normal" font-style="normal" fill="#231f20" textLength="41.2" lengthAdjust="spacingAndGlyphs" stroke="#231f20" stroke-width="0.3">Time (months)</text>
<text x="105.4" y="266.8" font-size="8.2" text-anchor="middle" font-weight="bold" font-style="normal" fill="#000" textLength="64.8" lengthAdjust="spacingAndGlyphs" stroke="#000" stroke-width="0.15">CIR post–alloSCT</text>
<text x="105.4" y="276.7" font-size="7.8" text-anchor="middle" font-weight="normal" font-style="normal" fill="#231f20" textLength="45.6" lengthAdjust="spacingAndGlyphs" stroke="#231f20" stroke-width="0.12">ELN favorable</text>
<text x="40.5" y="457.9" font-size="8.2" text-anchor="start" font-weight="bold" font-style="normal" fill="#000" textLength="57.5" lengthAdjust="spacingAndGlyphs" stroke="#000" stroke-width="0.2">Number at risk</text>
<text x="46.2" y="469.5" font-size="7.8" text-anchor="middle" font-weight="normal" font-style="normal" fill="#231f20" stroke="#231f20" stroke-width="0.12">82</text>
<text x="64.4" y="469.5" font-size="7.8" text-anchor="middle" font-weight="normal" font-style="normal" fill="#231f20" stroke="#231f20" stroke-width="0.12">51</text>
<text x="82.6" y="469.5" font-size="7.8" text-anchor="middle" font-weight="normal" font-style="normal" fill="#231f20" stroke="#231f20" stroke-width="0.12">33</text>
<text x="100.8" y="469.5" font-size="7.8" text-anchor="middle" font-weight="normal" font-style="normal" fill="#231f20" stroke="#231f20" stroke-width="0.12">28</text>
<text x="119.0" y="469.5" font-size="7.8" text-anchor="middle" font-weight="normal" font-style="normal" fill="#231f20" stroke="#231f20" stroke-width="0.12">18</text>
<text x="137.2" y="469.5" font-size="7.8" text-anchor="middle" font-weight="normal" font-style="normal" fill="#231f20" stroke="#231f20" stroke-width="0.12">15</text>
<text x="155.39999999999998" y="469.5" font-size="7.8" text-anchor="middle" font-weight="normal" font-style="normal" fill="#231f20" stroke="#231f20" stroke-width="0.12">7</text>
<text x="107.7" y="335.0" font-size="6.4" text-anchor="middle" font-weight="normal" font-style="italic" fill="#2a2a2a" textLength="113.7" lengthAdjust="spacingAndGlyphs">CI death ELN 2017 fav vs ELN 2017 int p = ns</text>
<text x="107.7" y="342.0" font-size="6.4" text-anchor="middle" font-weight="normal" font-style="italic" fill="#2a2a2a" textLength="116.5" lengthAdjust="spacingAndGlyphs">CI death ELN 2017 fav vs ELN 2017 adv p = ns</text>
<text x="107.7" y="349.4" font-size="6.4" text-anchor="middle" font-weight="normal" font-style="italic" fill="#2a2a2a" textLength="117.8" lengthAdjust="spacingAndGlyphs">CI relapse ELN 2017 fav vs ELN 2017 int p = ns</text>
<text x="107.7" y="356.5" font-size="6.4" text-anchor="middle" font-weight="normal" font-style="italic" fill="#2a2a2a" textLength="128.8" lengthAdjust="spacingAndGlyphs">CI relapse ELN 2017 fav vs ELN 2017 adv p &lt; 0.001</text>
<text transform="translate(14.1,348.5) rotate(-90)" x="0" y="0" font-size="8.8" text-anchor="middle" fill="#231f20" stroke="#231f20" stroke-width="0.3" textLength="63.5" lengthAdjust="spacingAndGlyphs">Probability of an event</text>
<line x1="46.9" y1="288.8" x2="54.3" y2="288.8" stroke="#d42a4e" stroke-width="1.4"/>
<line x1="46.9" y1="298.9" x2="54.3" y2="298.9" stroke="#3a6ea8" stroke-width="1.4"/>
<text x="57.8" y="291.3" font-size="7.2" text-anchor="start" font-weight="normal" font-style="normal" fill="#231f20" textLength="56.5" lengthAdjust="spacingAndGlyphs" stroke="#231f20" stroke-width="0.12">Death w/o relapse</text>
<text x="57.8" y="301.4" font-size="7.2" text-anchor="start" font-weight="normal" font-style="normal" fill="#231f20" textLength="24.3" lengthAdjust="spacingAndGlyphs" stroke="#231f20" stroke-width="0.12">Relapse</text>
<text x="176.4" y="261.4" font-size="10.8" text-anchor="start" font-weight="bold" font-style="normal" fill="#000" textLength="7.9" lengthAdjust="spacingAndGlyphs" stroke="#000" stroke-width="0.25">D</text>
<line x1="210.3" y1="279.8" x2="210.3" y2="421.7" stroke="#000" stroke-width="1.2"/>
<line x1="209.8" y1="421.2" x2="340.5" y2="421.2" stroke="#000" stroke-width="1.2"/>
<line x1="207.0" y1="414.8" x2="210.3" y2="414.8" stroke="#000" stroke-width="1.0"/>
<text x="204.5" y="417.40000000000003" font-size="7.7" text-anchor="end" font-weight="normal" font-style="normal" fill="#231f20" stroke="#231f20" stroke-width="0.12">0%</text>
<line x1="207.0" y1="390.7" x2="210.3" y2="390.7" stroke="#000" stroke-width="1.0"/>
<text x="204.5" y="393.3" font-size="7.7" text-anchor="end" font-weight="normal" font-style="normal" fill="#231f20" stroke="#231f20" stroke-width="0.12">10%</text>
<line x1="207.0" y1="366.6" x2="210.3" y2="366.6" stroke="#000" stroke-width="1.0"/>
<text x="204.5" y="369.20000000000005" font-size="7.7" text-anchor="end" font-weight="normal" font-style="normal" fill="#231f20" stroke="#231f20" stroke-width="0.12">20%</text>
<line x1="207.0" y1="342.5" x2="210.3" y2="342.5" stroke="#000" stroke-width="1.0"/>
<text x="204.5" y="345.1" font-size="7.7" text-anchor="end" font-weight="normal" font-style="normal" fill="#231f20" stroke="#231f20" stroke-width="0.12">30%</text>
<line x1="207.0" y1="318.4" x2="210.3" y2="318.4" stroke="#000" stroke-width="1.0"/>
<text x="204.5" y="321.0" font-size="7.7" text-anchor="end" font-weight="normal" font-style="normal" fill="#231f20" stroke="#231f20" stroke-width="0.12">40%</text>
<line x1="207.0" y1="294.3" x2="210.3" y2="294.3" stroke="#000" stroke-width="1.0"/>
<text x="204.5" y="296.90000000000003" font-size="7.7" text-anchor="end" font-weight="normal" font-style="normal" fill="#231f20" stroke="#231f20" stroke-width="0.12">50%</text>
<line x1="216.2" y1="421.2" x2="216.2" y2="424.0" stroke="#000" stroke-width="1.0"/>
<text x="216.2" y="432.9" font-size="7.8" text-anchor="middle" font-weight="normal" font-style="normal" fill="#231f20" stroke="#231f20" stroke-width="0.12">0</text>
<line x1="234.39999999999998" y1="421.2" x2="234.39999999999998" y2="424.0" stroke="#000" stroke-width="1.0"/>
<text x="234.39999999999998" y="432.9" font-size="7.8" text-anchor="middle" font-weight="normal" font-style="normal" fill="#231f20" stroke="#231f20" stroke-width="0.12">10</text>
<line x1="252.6" y1="421.2" x2="252.6" y2="424.0" stroke="#000" stroke-width="1.0"/>
<text x="252.6" y="432.9" font-size="7.8" text-anchor="middle" font-weight="normal" font-style="normal" fill="#231f20" stroke="#231f20" stroke-width="0.12">20</text>
<line x1="270.79999999999995" y1="421.2" x2="270.79999999999995" y2="424.0" stroke="#000" stroke-width="1.0"/>
<text x="270.79999999999995" y="432.9" font-size="7.8" text-anchor="middle" font-weight="normal" font-style="normal" fill="#231f20" stroke="#231f20" stroke-width="0.12">30</text>
<line x1="289.0" y1="421.2" x2="289.0" y2="424.0" stroke="#000" stroke-width="1.0"/>
<text x="289.0" y="432.9" font-size="7.8" text-anchor="middle" font-weight="normal" font-style="normal" fill="#231f20" stroke="#231f20" stroke-width="0.12">40</text>
<line x1="307.2" y1="421.2" x2="307.2" y2="424.0" stroke="#000" stroke-width="1.0"/>
<text x="307.2" y="432.9" font-size="7.8" text-anchor="middle" font-weight="normal" font-style="normal" fill="#231f20" stroke="#231f20" stroke-width="0.12">50</text>
<line x1="325.4" y1="421.2" x2="325.4" y2="424.0" stroke="#000" stroke-width="1.0"/>
<text x="325.4" y="432.9" font-size="7.8" text-anchor="middle" font-weight="normal" font-style="normal" fill="#231f20" stroke="#231f20" stroke-width="0.12">60</text>
<text x="275.4" y="444.9" font-size="8.4" text-anchor="middle" font-weight="normal" font-style="normal" fill="#231f20" textLength="41.2" lengthAdjust="spacingAndGlyphs" stroke="#231f20" stroke-width="0.3">Time (months)</text>
<text x="275.4" y="266.8" font-size="8.2" text-anchor="middle" font-weight="bold" font-style="normal" fill="#000" textLength="65.1" lengthAdjust="spacingAndGlyphs" stroke="#000" stroke-width="0.15">CIR post–alloSCT</text>
<text x="275.4" y="276.7" font-size="7.8" text-anchor="middle" font-weight="normal" font-style="normal" fill="#231f20" textLength="56.4" lengthAdjust="spacingAndGlyphs" stroke="#231f20" stroke-width="0.12">ELN intermediate</text>
<text x="210.5" y="457.9" font-size="8.2" text-anchor="start" font-weight="bold" font-style="normal" fill="#000" textLength="57.5" lengthAdjust="spacingAndGlyphs" stroke="#000" stroke-width="0.2">Number at risk</text>
<text x="216.2" y="469.5" font-size="7.8" text-anchor="middle" font-weight="normal" font-style="normal" fill="#231f20" stroke="#231f20" stroke-width="0.12">80</text>
<text x="234.39999999999998" y="469.5" font-size="7.8" text-anchor="middle" font-weight="normal" font-style="normal" fill="#231f20" stroke="#231f20" stroke-width="0.12">43</text>
<text x="252.6" y="469.5" font-size="7.8" text-anchor="middle" font-weight="normal" font-style="normal" fill="#231f20" stroke="#231f20" stroke-width="0.12">22</text>
<text x="270.79999999999995" y="469.5" font-size="7.8" text-anchor="middle" font-weight="normal" font-style="normal" fill="#231f20" stroke="#231f20" stroke-width="0.12">16</text>
<text x="289.0" y="469.5" font-size="7.8" text-anchor="middle" font-weight="normal" font-style="normal" fill="#231f20" stroke="#231f20" stroke-width="0.12">10</text>
<text x="307.2" y="469.5" font-size="7.8" text-anchor="middle" font-weight="normal" font-style="normal" fill="#231f20" stroke="#231f20" stroke-width="0.12">5</text>
<text x="325.4" y="469.5" font-size="7.8" text-anchor="middle" font-weight="normal" font-style="normal" fill="#231f20" stroke="#231f20" stroke-width="0.12">4</text>
<text x="279.1" y="331.95" font-size="6.4" text-anchor="middle" font-weight="normal" font-style="italic" fill="#2a2a2a" textLength="115.9" lengthAdjust="spacingAndGlyphs">CI death ELN 2017 int vs ELN 2017 adv p = ns</text>
<text x="279.1" y="339.45" font-size="6.4" text-anchor="middle" font-weight="normal" font-style="italic" fill="#2a2a2a" textLength="119.35" lengthAdjust="spacingAndGlyphs">CI relapse ELN 2017 int vs ELN 2017 adv p = ns</text>
<text x="346.4" y="261.4" font-size="10.8" text-anchor="start" font-weight="bold" font-style="normal" fill="#000" textLength="6.6" lengthAdjust="spacingAndGlyphs" stroke="#000" stroke-width="0.25">E</text>
<line x1="380.3" y1="279.8" x2="380.3" y2="421.7" stroke="#000" stroke-width="1.2"/>
<line x1="379.8" y1="421.2" x2="510.5" y2="421.2" stroke="#000" stroke-width="1.2"/>
<line x1="377.0" y1="414.8" x2="380.3" y2="414.8" stroke="#000" stroke-width="1.0"/>
<text x="374.5" y="417.40000000000003" font-size="7.7" text-anchor="end" font-weight="normal" font-style="normal" fill="#231f20" stroke="#231f20" stroke-width="0.12">0%</text>
<line x1="377.0" y1="390.7" x2="380.3" y2="390.7" stroke="#000" stroke-width="1.0"/>
<text x="374.5" y="393.3" font-size="7.7" text-anchor="end" font-weight="normal" font-style="normal" fill="#231f20" stroke="#231f20" stroke-width="0.12">10%</text>
<line x1="377.0" y1="366.6" x2="380.3" y2="366.6" stroke="#000" stroke-width="1.0"/>
<text x="374.5" y="369.20000000000005" font-size="7.7" text-anchor="end" font-weight="normal" font-style="normal" fill="#231f20" stroke="#231f20" stroke-width="0.12">20%</text>
<line x1="377.0" y1="342.5" x2="380.3" y2="342.5" stroke="#000" stroke-width="1.0"/>
<text x="374.5" y="345.1" font-size="7.7" text-anchor="end" font-weight="normal" font-style="normal" fill="#231f20" stroke="#231f20" stroke-width="0.12">30%</text>
<line x1="377.0" y1="318.4" x2="380.3" y2="318.4" stroke="#000" stroke-width="1.0"/>
<text x="374.5" y="321.0" font-size="7.7" text-anchor="end" font-weight="normal" font-style="normal" fill="#231f20" stroke="#231f20" stroke-width="0.12">40%</text>
<line x1="377.0" y1="294.3" x2="380.3" y2="294.3" stroke="#000" stroke-width="1.0"/>
<text x="374.5" y="296.90000000000003" font-size="7.7" text-anchor="end" font-weight="normal" font-style="normal" fill="#231f20" stroke="#231f20" stroke-width="0.12">50%</text>
<line x1="386.2" y1="421.2" x2="386.2" y2="424.0" stroke="#000" stroke-width="1.0"/>
<text x="386.2" y="432.9" font-size="7.8" text-anchor="middle" font-weight="normal" font-style="normal" fill="#231f20" stroke="#231f20" stroke-width="0.12">0</text>
<line x1="404.4" y1="421.2" x2="404.4" y2="424.0" stroke="#000" stroke-width="1.0"/>
<text x="404.4" y="432.9" font-size="7.8" text-anchor="middle" font-weight="normal" font-style="normal" fill="#231f20" stroke="#231f20" stroke-width="0.12">10</text>
<line x1="422.59999999999997" y1="421.2" x2="422.59999999999997" y2="424.0" stroke="#000" stroke-width="1.0"/>
<text x="422.59999999999997" y="432.9" font-size="7.8" text-anchor="middle" font-weight="normal" font-style="normal" fill="#231f20" stroke="#231f20" stroke-width="0.12">20</text>
<line x1="440.79999999999995" y1="421.2" x2="440.79999999999995" y2="424.0" stroke="#000" stroke-width="1.0"/>
<text x="440.79999999999995" y="432.9" font-size="7.8" text-anchor="middle" font-weight="normal" font-style="normal" fill="#231f20" stroke="#231f20" stroke-width="0.12">30</text>
<line x1="459.0" y1="421.2" x2="459.0" y2="424.0" stroke="#000" stroke-width="1.0"/>
<text x="459.0" y="432.9" font-size="7.8" text-anchor="middle" font-weight="normal" font-style="normal" fill="#231f20" stroke="#231f20" stroke-width="0.12">40</text>
<line x1="477.2" y1="421.2" x2="477.2" y2="424.0" stroke="#000" stroke-width="1.0"/>
<text x="477.2" y="432.9" font-size="7.8" text-anchor="middle" font-weight="normal" font-style="normal" fill="#231f20" stroke="#231f20" stroke-width="0.12">50</text>
<line x1="495.4" y1="421.2" x2="495.4" y2="424.0" stroke="#000" stroke-width="1.0"/>
<text x="495.4" y="432.9" font-size="7.8" text-anchor="middle" font-weight="normal" font-style="normal" fill="#231f20" stroke="#231f20" stroke-width="0.12">60</text>
<text x="445.4" y="444.9" font-size="8.4" text-anchor="middle" font-weight="normal" font-style="normal" fill="#231f20" textLength="41.2" lengthAdjust="spacingAndGlyphs" stroke="#231f20" stroke-width="0.3">Time (months)</text>
<text x="445.4" y="266.8" font-size="8.2" text-anchor="middle" font-weight="bold" font-style="normal" fill="#000" textLength="65.0" lengthAdjust="spacingAndGlyphs" stroke="#000" stroke-width="0.15">CIR post–alloSCT</text>
<text x="445.4" y="276.7" font-size="7.8" text-anchor="middle" font-weight="normal" font-style="normal" fill="#231f20" textLength="39.0" lengthAdjust="spacingAndGlyphs" stroke="#231f20" stroke-width="0.12">ELN adverse</text>
<text x="380.5" y="457.9" font-size="8.2" text-anchor="start" font-weight="bold" font-style="normal" fill="#000" textLength="57.5" lengthAdjust="spacingAndGlyphs" stroke="#000" stroke-width="0.2">Number at risk</text>
<text x="386.2" y="469.5" font-size="7.8" text-anchor="middle" font-weight="normal" font-style="normal" fill="#231f20" stroke="#231f20" stroke-width="0.12">150</text>
<text x="404.4" y="469.5" font-size="7.8" text-anchor="middle" font-weight="normal" font-style="normal" fill="#231f20" stroke="#231f20" stroke-width="0.12">63</text>
<text x="422.59999999999997" y="469.5" font-size="7.8" text-anchor="middle" font-weight="normal" font-style="normal" fill="#231f20" stroke="#231f20" stroke-width="0.12">38</text>
<text x="440.79999999999995" y="469.5" font-size="7.8" text-anchor="middle" font-weight="normal" font-style="normal" fill="#231f20" stroke="#231f20" stroke-width="0.12">31</text>
<text x="459.0" y="469.5" font-size="7.8" text-anchor="middle" font-weight="normal" font-style="normal" fill="#231f20" stroke="#231f20" stroke-width="0.12">21</text>
<text x="477.2" y="469.5" font-size="7.8" text-anchor="middle" font-weight="normal" font-style="normal" fill="#231f20" stroke="#231f20" stroke-width="0.12">14</text>
<text x="495.4" y="469.5" font-size="7.8" text-anchor="middle" font-weight="normal" font-style="normal" fill="#231f20" stroke="#231f20" stroke-width="0.12">6</text>
<text x="465.2" y="406.5" font-size="6.4" text-anchor="middle" font-weight="normal" font-style="normal" fill="#2a2a2a" textLength="41.2" lengthAdjust="spacingAndGlyphs">CI death p = ns</text>
<text x="465.2" y="414.3" font-size="6.4" text-anchor="middle" font-weight="normal" font-style="normal" fill="#2a2a2a" textLength="54.8" lengthAdjust="spacingAndGlyphs">CI relapse p = 0.003</text>
<polyline points="46.80,414.60 47.50,414.60 47.50,408.50 49.00,408.50 49.00,403.30 50.00,403.30 50.00,399.00 50.60,399.00 50.60,394.70 53.10,394.70 53.10,388.70 54.10,388.70 54.10,384.00 55.10,384.00 55.10,379.10 63.20,379.10 63.20,375.30 101.70,375.30 101.70,369.50 170.50,369.50 170.50,369.50" fill="none" stroke="#d42a4e" stroke-width="1.3" stroke-linejoin="miter"/>
<polyline points="46.50,414.60 49.60,414.60 49.60,406.30 51.50,406.30 51.50,404.50 53.10,404.50 53.10,402.80 57.10,402.80 57.10,399.80 59.70,399.80 59.70,396.70 62.00,396.70 62.00,393.00 63.70,393.00 63.70,389.70 65.70,389.70 65.70,386.10 67.20,386.10 67.20,382.60 69.70,382.60 69.70,379.10 81.40,379.10 81.40,374.30 138.70,374.30 138.70,362.30 170.50,362.30 170.50,362.30" fill="none" stroke="#3a6ea8" stroke-width="1.3" stroke-linejoin="miter"/>
<polyline points="216.00,412.30 218.00,412.30 218.00,405.50 222.60,405.50 224.60,392.40 232.70,392.40 232.70,388.60 235.70,388.60 235.70,384.90 277.70,384.90 277.70,374.50 340.50,374.50 340.50,374.50" fill="none" stroke="#d42a4e" stroke-width="1.3" stroke-linejoin="miter"/>
<polyline points="216.70,414.90 218.40,407.30 220.10,395.60 221.60,380.10 224.10,380.10 224.10,377.10 226.60,377.10 226.60,374.00 229.10,374.00 229.10,371.00 230.00,371.00 230.00,366.60 238.60,366.60 238.60,361.90 241.60,361.90 241.60,357.70 249.40,357.70 249.40,351.80 258.30,351.80 258.30,345.00 340.50,345.00 340.50,345.00" fill="none" stroke="#3a6ea8" stroke-width="1.3" stroke-linejoin="miter"/>
<polyline points="386.50,414.50 389.00,407.00 390.50,403.20 391.50,390.60 392.50,379.20 394.00,375.40 396.00,369.60 401.40,369.30 401.40,366.70 408.30,366.70 408.30,364.80 419.70,364.80 419.70,362.30 428.50,362.30 428.50,359.10 437.30,359.10 437.30,356.40 507.80,356.40 507.80,338.00 512.80,338.00 512.80,338.00" fill="none" stroke="#d42a4e" stroke-width="1.3" stroke-linejoin="miter"/>
<polyline points="386.00,414.20 388.50,406.70 390.00,402.90 391.00,390.30 392.00,378.90 393.50,375.10 395.50,369.30 395.70,368.00 395.70,354.70 398.20,354.70 398.20,351.60 399.90,351.60 399.90,347.20 402.00,347.20 402.00,345.00 404.50,345.00 404.50,340.90 406.40,340.90 406.40,339.00 409.00,339.00 409.00,335.20 420.30,335.20 420.30,327.60 434.80,327.60 434.80,325.10 439.20,325.10 439.20,321.90 478.10,321.90 478.10,314.60 484.90,314.60 484.90,306.80 512.80,306.80 512.80,306.80" fill="none" stroke="#3a6ea8" stroke-width="1.3" stroke-linejoin="miter"/>
<rect x="0" y="0" width="520" height="1.1" fill="#000"/><rect x="0" y="0" width="1.1" height="476" fill="#000"/><rect x="518.7" y="0" width="1.3" height="476" fill="#000"/><rect x="0" y="474.7" width="520" height="1.3" fill="#000"/>
</svg></body></html>
